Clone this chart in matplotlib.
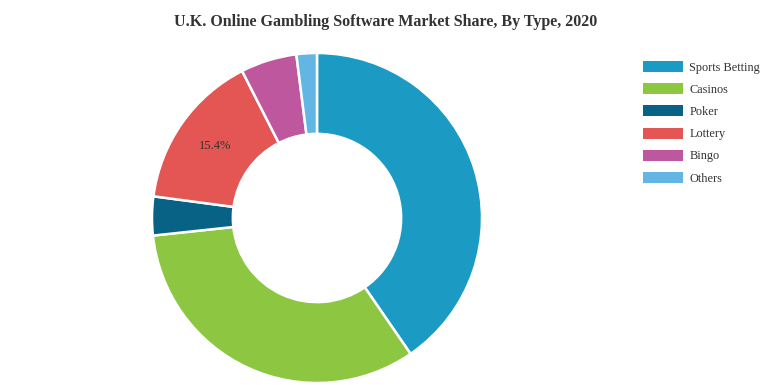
import numpy as np
import matplotlib.pyplot as plt
from matplotlib.patches import Patch

plt.rcParams['font.family'] = ['Liberation Serif', 'DejaVu Serif']

categories = ['Sports Betting', 'Casinos', 'Poker', 'Lottery', 'Bingo', 'Others']
shares = [40.4, 32.9, 3.8, 15.4, 5.5, 2.0]
colors = ['#1b9ac4', '#8dc641', '#076286', '#e35654', '#bf579e', '#63b6e4']
shown_labels = {'Lottery': '15.4%'}

fig = plt.figure(figsize=(7.71, 3.85), dpi=100)
ax = fig.add_axes([152 / 771, 2 / 385, 330 / 771, 330 / 385])

wedges, _ = ax.pie(shares, colors=colors, startangle=90, counterclock=False,
                   radius=1.0, wedgeprops=dict(width=0.49, edgecolor='white', linewidth=1.8))
ax.set_xlim(-1, 1)
ax.set_ylim(-1, 1)
ax.set_aspect('equal')
ax.axis('off')

for w, name in zip(wedges, categories):
    if name in shown_labels:
        mid = np.deg2rad((w.theta1 + w.theta2) / 2)
        r = 0.755
        ax.text(r * np.cos(mid), r * np.sin(mid), shown_labels[name],
                ha='center', va='center', fontsize=9, color='#333333')

fig.text(386 / 771, 1 - 22 / 385, 'U.K. Online Gambling Software Market Share, By Type, 2020',
         ha='center', va='center', fontsize=11.5, fontweight='bold', color='#333333')

handles = [Patch(facecolor=c, edgecolor='none') for c in colors]
fig.legend(handles, categories, loc='upper left', bbox_to_anchor=(643 / 771, 1 - 61 / 385),
           frameon=False, fontsize=8.8, handlelength=3.3, handleheight=1.0,
           labelspacing=0.78, handletextpad=0.5, borderpad=0, borderaxespad=0,
           labelcolor='#333333')

fig.savefig('out.png', dpi=100)
